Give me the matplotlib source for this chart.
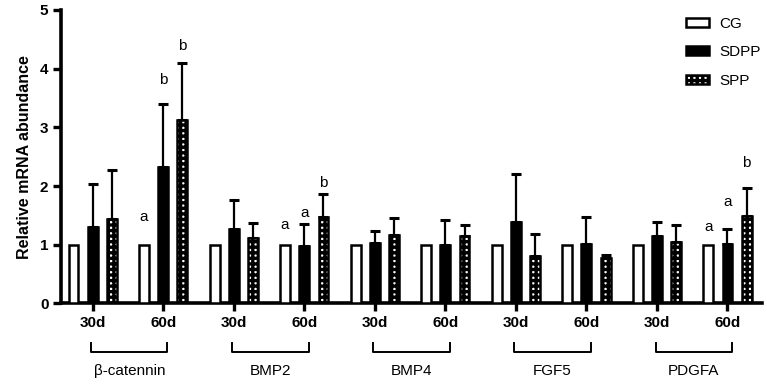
import numpy as np
import matplotlib
matplotlib.use("Agg")
from matplotlib import pyplot as plt
from matplotlib.patches import Patch

# data
genes = ['β-catennin', 'BMP2', 'BMP4', 'FGF5', 'PDGFA']
times = ['30d', '60d'] * 5
groups = ['CG', 'SDPP', 'SPP']

cg_mean = [1, 1, 1, 1, 1, 1, 1, 1, 1, 1]
sdpp_mean = [1.30, 2.33, 1.26, 0.97, 1.03, 1.00, 1.38, 1.01, 1.14, 1.01]
sdpp_err = [0.74, 1.07, 0.51, 0.38, 0.21, 0.42, 0.82, 0.46, 0.25, 0.25]
spp_mean = [1.44, 3.13, 1.12, 1.48, 1.16, 1.14, 0.80, 0.78, 1.05, 1.49]
spp_err = [0.83, 0.97, 0.25, 0.38, 0.29, 0.19, 0.39, 0.05, 0.28, 0.48]

# significance letters: (time index, group index, letter, y position)
letters = [
    (1, 0, 'a', 1.47), (1, 1, 'b', 3.81), (1, 2, 'b', 4.38),
    (3, 0, 'a', 1.34), (3, 1, 'a', 1.54), (3, 2, 'b', 2.05),
    (9, 0, 'a', 1.30), (9, 1, 'a', 1.73), (9, 2, 'b', 2.39),
]

plt.rcParams['font.family'] = ['Liberation Sans', 'DejaVu Sans']
plt.rcParams['hatch.linewidth'] = 2.4

fig = plt.figure(figsize=(7.67, 3.84), dpi=100)
ax = fig.add_axes([0.0795, 0.21, 0.914, 0.764])

x = np.arange(len(times))
off = 0.272
w = 0.14
lw = 1.8
zeros = np.zeros(len(x))

ax.bar(x - off, cg_mean, w, color='white', edgecolor='black', linewidth=lw, zorder=3)
ax.bar(x, sdpp_mean, w, color='black', edgecolor='black', linewidth=lw, zorder=3)
ax.errorbar(x, sdpp_mean, yerr=[zeros, sdpp_err], fmt='none',
            ecolor='black', elinewidth=1.6, capsize=3.5, capthick=2.2, zorder=2)
# SPP: checkered fill
ax.bar(x + off, spp_mean, w, color='white', edgecolor='black', hatch='+++',
       linewidth=lw, zorder=3)
ax.errorbar(x + off, spp_mean, yerr=[zeros, spp_err], fmt='none',
            ecolor='black', elinewidth=1.6, capsize=3.5, capthick=2.2, zorder=2)

for ti, gi, txt, yy in letters:
    ax.text(x[ti] + (gi - 1) * off, yy, txt, ha='center', va='center', fontsize=11)

ax.set_xlim(-0.45, len(x) - 1 + 0.49)
ax.set_ylim(0, 5)
ax.set_yticks([0, 1, 2, 3, 4, 5])
ax.set_xticks(x)
ax.set_xticklabels(times, fontweight='bold', fontsize=11)
for lab in ax.get_yticklabels():
    lab.set_fontweight('bold')
    lab.set_fontsize(11)
ax.tick_params(axis='both', width=2.4, length=6, pad=3)
ax.set_ylabel('Relative mRNA abundance', fontweight='bold', fontsize=11.5, labelpad=6)

for s in ['top', 'right']:
    ax.spines[s].set_visible(False)
for s in ['left', 'bottom']:
    ax.spines[s].set_linewidth(2.6)

# gene brackets under the time labels
trans = ax.get_xaxis_transform()
for i, g in enumerate(genes):
    x0, x1 = x[2 * i] - 0.02, x[2 * i + 1] + 0.06
    ax.plot([x0, x0, x1, x1], [-0.135, -0.167, -0.167, -0.135], color='black',
            linewidth=1.4, transform=trans, clip_on=False)
    ax.text((x0 + x1) / 2, -0.23, g, ha='center', va='center', fontsize=11,
            transform=trans)

handles = [
    Patch(facecolor='white', edgecolor='black', linewidth=1.8),
    Patch(facecolor='black', edgecolor='black', linewidth=1.8),
    Patch(facecolor='white', edgecolor='black', hatch='+++', linewidth=1.8),
]
fig.legend(handles, groups, loc='upper left', bbox_to_anchor=(0.894, 0.957),
           frameon=False, fontsize=11, handlelength=1.5, handleheight=0.55,
           labelspacing=0.95, handletextpad=0.7, borderpad=0, borderaxespad=0)

fig.savefig('out.png', dpi=100)
